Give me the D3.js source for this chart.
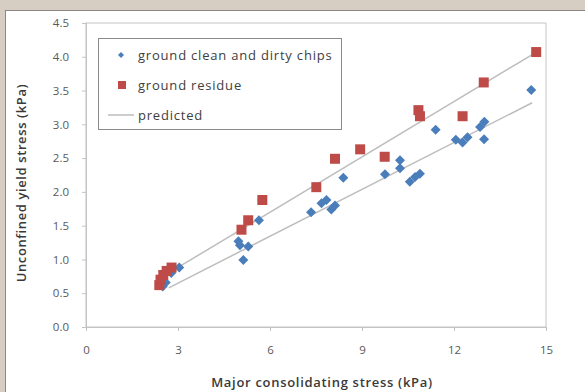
<!DOCTYPE html>
<html>
<head>
<meta charset="utf-8">
<script src="https://cdn.jsdelivr.net/npm/d3@7"></script>
<style>
  body { margin: 0; background: #d6cdc3; }
  svg { display: block; }
</style>
</head>
<body>
<div id="chart"></div>
<script>
// values
const chipsX = [2.50, 2.60, 2.78, 3.04, 4.97, 5.02, 5.13, 5.29, 5.64, 7.34, 7.68, 7.84, 8.00, 8.12, 8.39,
  9.75, 10.24, 10.24, 10.56, 10.73, 10.89, 11.40, 12.06, 12.28, 12.44, 12.85, 12.99, 12.98, 14.52];
const chipsY = [0.60, 0.66, 0.80, 0.88, 1.27, 1.21, 0.99, 1.19, 1.58, 1.70, 1.83, 1.88, 1.74, 1.80, 2.21,
  2.26, 2.47, 2.35, 2.15, 2.22, 2.27, 2.92, 2.77, 2.73, 2.81, 2.96, 3.04, 2.78, 3.51];
const residueX = [2.39, 2.43, 2.52, 2.63, 2.79, 5.07, 5.29, 5.75, 7.51, 8.12, 8.94, 9.74, 10.84, 10.89, 12.28, 12.97, 14.68];
const residueY = [0.62, 0.70, 0.77, 0.83, 0.88, 1.44, 1.58, 1.88, 2.07, 2.49, 2.63, 2.52, 3.21, 3.12, 3.12, 3.62, 4.07];
// predicted lines, start and end points
const predUpperX = [2.70, 14.80];
const predUpperY = [0.80, 4.10];
const predLowerX = [2.70, 14.55];
const predLowerY = [0.58, 3.32];
const xTicks = [0, 3, 6, 9, 12, 15];
const yTicks = [0, 0.5, 1, 1.5, 2, 2.5, 3, 3.5, 4, 4.5];
const legendLabels = ["ground clean and dirty chips", "ground residue", "predicted"];

const W = 585, H = 392;
const margin = {top: 23, right: 39, bottom: 65, left: 86};
const blue = "#4a7ebb", red = "#be4b48", gridGrey = "#c4c4c4";
const font = "'Open Sans', sans-serif";

const svg = d3.select("#chart").append("svg")
  .attr("width", W).attr("height", H);

// outer panel
svg.append("rect")
  .attr("x", 5.5).attr("y", 10.5)
  .attr("width", W + 10).attr("height", H + 10)
  .attr("fill", "#fff")
  .attr("stroke", "#8c8782");

const x = d3.scaleLinear().domain([0, 15]).range([margin.left, W - margin.right]);
const y = d3.scaleLinear().domain([0, 4.5]).range([H - margin.bottom, margin.top]);

// plot frame
svg.append("rect")
  .attr("x", x(0)).attr("y", y(4.5))
  .attr("width", x(15) - x(0)).attr("height", y(0) - y(4.5))
  .attr("fill", "none").attr("stroke", gridGrey);

const xAxis = svg.append("g")
  .attr("transform", "translate(0," + y(0) + ")")
  .call(d3.axisBottom(x).tickValues(xTicks).tickSize(4).tickPadding(15).tickFormat(d3.format("d")));
const yAxis = svg.append("g")
  .attr("transform", "translate(" + x(0) + ",0)")
  .call(d3.axisLeft(y).tickValues(yTicks).tickSize(4).tickPadding(13).tickFormat(d3.format(".1f")));

[xAxis, yAxis].forEach(function(g) {
  g.select(".domain").attr("stroke", gridGrey);
  g.selectAll(".tick line").attr("stroke", gridGrey);
  g.selectAll(".tick text")
    .attr("fill", "#595959")
    .style("font-family", font)
    .style("font-size", "11.5px");
});

// axis titles
svg.append("text")
  .attr("x", (x(0) + x(15)) / 2 + 6).attr("y", 387)
  .attr("text-anchor", "middle")
  .attr("fill", "#3a3a3a")
  .style("font-family", font).style("font-size", "13px").style("font-weight", 600)
  .style("letter-spacing", "0.7px")
  .text("Major consolidating stress (kPa)");

svg.append("text")
  .attr("transform", "translate(21," + ((y(0) + y(4.5)) / 2 + 8) + ") rotate(-90)")
  .attr("text-anchor", "middle")
  .attr("dy", "0.35em")
  .attr("fill", "#3a3a3a")
  .style("font-family", font).style("font-size", "13px").style("font-weight", 600)
  .style("letter-spacing", "0.6px")
  .text("Unconfined yield stress (kPa)");

// predicted lines
const line = d3.line().x(d => x(d[0])).y(d => y(d[1]));
[[predUpperX, predUpperY], [predLowerX, predLowerY]].forEach(function(p) {
  svg.append("path")
    .datum(p[0].map((v, i) => [v, p[1][i]]))
    .attr("d", line)
    .attr("fill", "none")
    .attr("stroke", "#bdbdbd")
    .attr("stroke-width", 1.5);
});

const chips = chipsX.map((v, i) => ({x: v, y: chipsY[i]}));
const residue = residueX.map((v, i) => ({x: v, y: residueY[i]}));

svg.append("g").selectAll("path")
  .data(chips)
  .enter()
  .append("path")
    .attr("d", d3.symbol().type(d3.symbolSquare).size(50))
    .attr("transform", d => "translate(" + x(d.x) + "," + y(d.y) + ") rotate(45)")
    .attr("fill", blue);

svg.append("g").selectAll("rect")
  .data(residue)
  .enter()
  .append("rect")
    .attr("x", d => x(d.x) - 5)
    .attr("y", d => y(d.y) - 5)
    .attr("width", 10).attr("height", 10)
    .attr("fill", red);

// legend
const lg = svg.append("g").attr("transform", "translate(98,38)");
lg.append("rect")
  .attr("x", 0.5).attr("y", 0.5)
  .attr("width", 243).attr("height", 91)
  .attr("fill", "#fff")
  .attr("stroke", "#8a8a8a");

const rowY = [17, 47, 77];
lg.append("path")
  .attr("d", d3.symbol().type(d3.symbolSquare).size(18))
  .attr("transform", "translate(23," + rowY[0] + ") rotate(45)")
  .attr("fill", blue);
lg.append("rect")
  .attr("x", 20).attr("y", rowY[1] - 4)
  .attr("width", 8).attr("height", 8)
  .attr("fill", red);
lg.append("line")
  .attr("x1", 10).attr("x2", 36)
  .attr("y1", rowY[2]).attr("y2", rowY[2])
  .attr("stroke", "#bdbdbd").attr("stroke-width", 1.5);

lg.selectAll("text.lab")
  .data(legendLabels)
  .enter()
  .append("text")
    .attr("class", "lab")
    .attr("x", 40)
    .attr("y", (d, i) => rowY[i])
    .attr("dy", "0.35em")
    .attr("fill", "#404040")
    .style("font-family", font)
    .style("font-size", "13px")
    .style("letter-spacing", "0.8px")
    .text(d => d);
</script>
</body>
</html>
